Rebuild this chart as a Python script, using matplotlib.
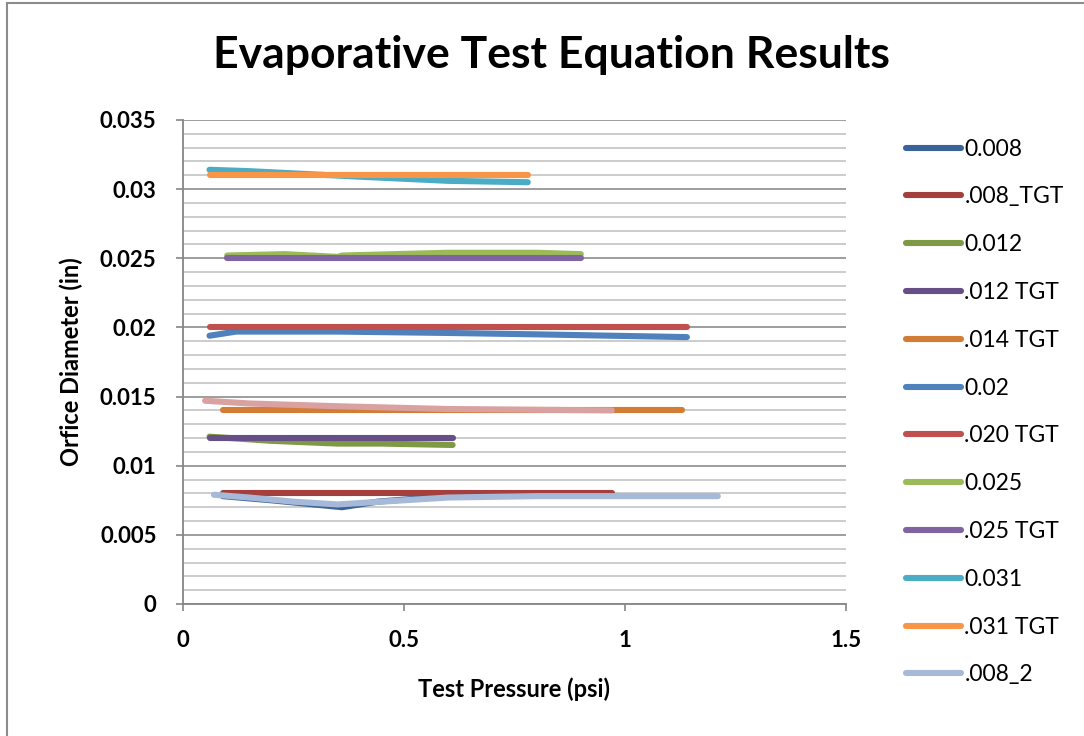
import matplotlib
matplotlib.use('Agg')

import matplotlib.pyplot as plt
from matplotlib.lines import Line2D
from matplotlib.ticker import MultipleLocator, FuncFormatter

plt.rcParams['font.family'] = ['Lato', 'DejaVu Sans']

# ---- data: pressure (psi) vs computed orifice diameter (in) ----
p_008 = [0.09, 0.20, 0.36, 0.44, 0.60, 0.97]
d_008 = [0.0078, 0.0075, 0.0070, 0.0074, 0.0078, 0.0079]

p_008_tgt = [0.09, 0.97]
d_008_tgt = [0.008, 0.008]

p_012 = [0.06, 0.20, 0.35, 0.45, 0.61]
d_012 = [0.0121, 0.0118, 0.0116, 0.0116, 0.0115]

p_012_tgt = [0.06, 0.61]
d_012_tgt = [0.012, 0.012]

p_014_tgt = [0.09, 1.13]
d_014_tgt = [0.014, 0.014]

p_020 = [0.06, 0.12, 0.35, 0.60, 0.80, 1.14]
d_020 = [0.0194, 0.0197, 0.0197, 0.0196, 0.0195, 0.0193]

p_020_tgt = [0.06, 1.14]
d_020_tgt = [0.020, 0.020]

p_025 = [0.10, 0.23, 0.35, 0.36, 0.60, 0.80, 0.90]
d_025 = [0.0252, 0.0253, 0.0251, 0.0252, 0.0254, 0.0254, 0.0253]

p_025_tgt = [0.10, 0.90]
d_025_tgt = [0.025, 0.025]

p_031 = [0.06, 0.15, 0.40, 0.60, 0.78]
d_031 = [0.0314, 0.0313, 0.0309, 0.0306, 0.0305]

p_031_tgt = [0.06, 0.78]
d_031_tgt = [0.031, 0.031]

p_008_2 = [0.07, 0.15, 0.25, 0.35, 0.45, 0.60, 0.80, 0.97, 1.21]
d_008_2 = [0.0079, 0.0077, 0.0074, 0.0072, 0.0074, 0.0077, 0.0078, 0.0078, 0.0078]

# extra run without a legend entry
p_014 = [0.05, 0.15, 0.35, 0.60, 0.97]
d_014 = [0.0147, 0.0145, 0.0143, 0.0141, 0.0140]

series = [
    ('0.008', p_008, d_008, '#3A6499'),
    ('.008_TGT', p_008_tgt, d_008_tgt, '#A33F3C'),
    ('0.012', p_012, d_012, '#7E9A45'),
    ('.012 TGT', p_012_tgt, d_012_tgt, '#664F86'),
    ('.014 TGT', p_014_tgt, d_014_tgt, '#D37C35'),
    ('0.02', p_020, d_020, '#4F81BD'),
    ('.020 TGT', p_020_tgt, d_020_tgt, '#C0504D'),
    ('0.025', p_025, d_025, '#9BBB59'),
    ('.025 TGT', p_025_tgt, d_025_tgt, '#8064A2'),
    ('0.031', p_031, d_031, '#4BACC6'),
    ('.031 TGT', p_031_tgt, d_031_tgt, '#F79646'),
    ('.008_2', p_008_2, d_008_2, '#A7B9D8'),
    ('_0.014', p_014, d_014, '#D9A19F'),
]

W, H = 1084, 736
fig = plt.figure(figsize=(W / 100, H / 100), dpi=100)
ax = fig.add_axes([183 / W, 1 - 604 / H, (846 - 183) / W, (604 - 120) / H])

for label, x, y, c in series:
    ax.plot(x, y, color=c, lw=4.4, solid_capstyle='round',
            solid_joinstyle='round', label=label)

ax.set_xlim(0, 1.5)
ax.set_ylim(0, 0.035)
ax.xaxis.set_major_locator(MultipleLocator(0.5))
ax.yaxis.set_major_locator(MultipleLocator(0.005))
ax.yaxis.set_minor_locator(MultipleLocator(0.001))
fmt = FuncFormatter(lambda v, pos: '{:g}'.format(round(v, 6)))
ax.xaxis.set_major_formatter(fmt)
ax.yaxis.set_major_formatter(fmt)

ax.grid(True, which='major', axis='y', color='#8C8C8C', lw=1.2)
ax.grid(True, which='minor', axis='y', color='#C4C4C4', lw=1.2)
ax.set_axisbelow(True)

for s in ['top', 'right']:
    ax.spines[s].set_visible(False)
for s in ['left', 'bottom']:
    ax.spines[s].set_color('#868686')
    ax.spines[s].set_linewidth(1.3)
ax.tick_params(which='major', length=5, width=1.2, color='#868686',
               labelsize=16, pad=6)
ax.tick_params(which='minor', length=0)
for t in ax.get_xticklabels() + ax.get_yticklabels():
    t.set_fontweight('bold')
ax.tick_params(axis='x', pad=14)
ax.tick_params(axis='y', pad=14)

ax.set_xlabel('Test Pressure (psi)', fontsize=17, fontweight='bold', labelpad=19)
ax.set_ylabel('Orfice Diameter (in)', fontsize=17, fontweight='bold', labelpad=12)

fig.text(551 / W, 1 - 55 / H, 'Evaporative Test Equation Results',
         ha='center', va='center', fontsize=32, fontweight='bold')

fig.legend(loc='center left', bbox_to_anchor=(906 / W, 1 - 412 / H),
           frameon=False, fontsize=16.5, handlelength=2.4, handletextpad=0.15,
           labelspacing=1.17, borderpad=0, borderaxespad=0)

# chart area border
fig.add_artist(Line2D([7 / W, 7 / W], [0, 1 - 3 / H], color='#8C8C8C', lw=1.5))
fig.add_artist(Line2D([7 / W, 1], [1 - 3 / H, 1 - 3 / H], color='#8C8C8C', lw=1.5))

fig.savefig('out.png', dpi=100)
